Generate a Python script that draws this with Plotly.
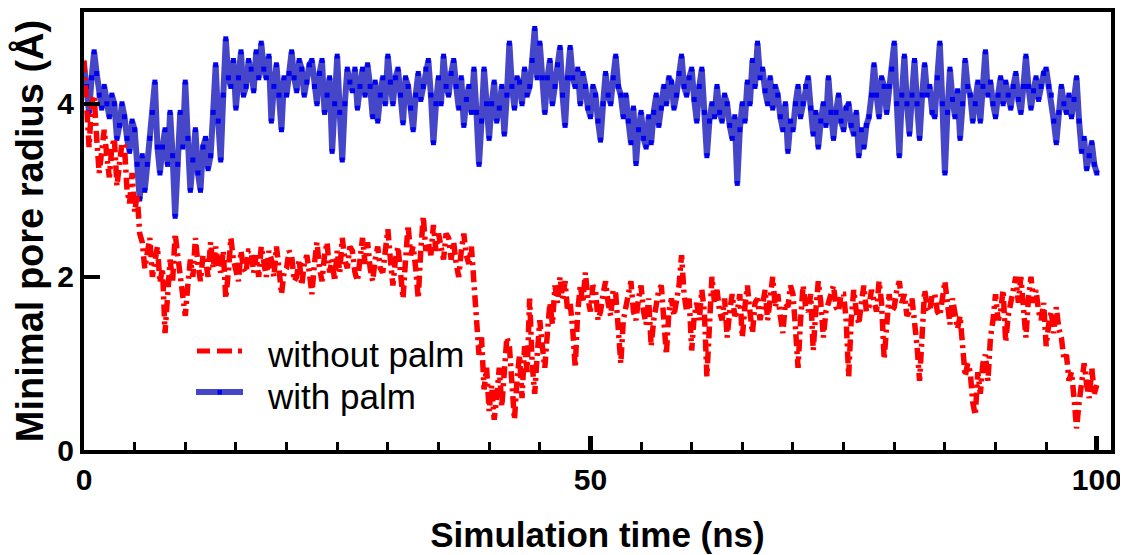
import plotly.graph_objects as go

# time axis (ns), sampled every 0.25 ns
time_ns = [i * 0.25 for i in range(401)]

# minimal pore radius (Å) with palmitoylation
with_palm = [
    4.45, 4.2, 3.9, 4.3, 4.6, 4.35, 4.1, 3.95, 4.2, 4.0, 3.85, 4.1, 4.0, 3.6, 3.75, 4.0, 3.85, 3.6, 3.45, 3.8,
    3.7, 3.3, 2.9, 3.4, 3.0, 3.3, 3.6, 3.9, 4.25, 3.5, 3.2, 3.5, 3.7, 3.3, 3.9, 3.4, 2.7, 3.3, 3.9, 3.5,
    4.25, 3.6, 3.0, 3.35, 3.7, 3.2, 3.0, 3.5, 3.6, 3.25, 3.4, 3.9, 4.45, 3.8, 3.35, 4.1, 4.75, 4.3, 4.2, 4.5,
    3.95, 4.3, 4.6, 4.1, 4.2, 4.5, 4.4, 4.15, 4.6, 4.3, 4.7, 4.4, 4.3, 4.55, 3.8, 4.2, 4.45, 4.1, 3.7, 4.3,
    4.1, 4.35, 4.6, 4.3, 4.15, 4.5, 4.4, 4.1, 4.25, 4.45, 4.5, 4.2, 4.0, 4.35, 4.5, 3.9, 4.1, 4.3, 3.45, 4.0,
    4.55, 3.9, 3.35, 4.0, 4.4, 4.25, 4.15, 4.4, 3.95, 4.2, 4.4, 4.1, 4.45, 4.2, 3.85, 4.25, 3.8, 4.1, 4.3, 4.0,
    4.55, 4.25, 4.0, 4.3, 4.4, 4.1, 3.78, 4.3, 4.2, 3.95, 3.7, 4.1, 4.35, 4.05, 4.2, 4.4, 4.5, 4.1, 3.55, 4.0,
    4.3, 4.0, 4.55, 4.2, 4.1, 4.35, 4.5, 4.2, 3.95, 4.3, 3.75, 4.05, 4.2, 3.9, 4.4, 3.9, 3.3, 3.8, 4.4, 4.0,
    3.6, 4.0, 4.25, 3.8, 3.95, 4.2, 3.65, 4.1, 4.7, 4.2, 3.95, 4.3, 4.25, 4.0, 4.4, 4.1, 4.2, 4.5, 4.87, 4.3,
    4.7, 4.3, 3.9, 4.3, 4.5, 4.0, 4.2, 4.45, 4.65, 4.1, 3.75, 4.3, 4.65, 4.3, 4.2, 4.4, 4.0, 4.35, 4.2, 3.95,
    3.85, 4.2, 4.1, 3.8, 3.58, 4.0, 4.35, 4.1, 4.0, 4.3, 4.55, 4.2, 4.1, 3.85, 4.1, 3.8, 3.55, 3.95, 3.31, 3.7,
    3.9, 3.6, 3.5, 3.85, 3.55, 3.9, 4.1, 3.75, 3.95, 4.2, 4.0, 4.3, 4.25, 3.95, 4.1, 4.35, 4.55, 4.2, 4.1, 4.3,
    4.4, 4.05, 3.8, 4.2, 4.4, 3.9, 3.4, 3.8, 4.0, 3.85, 4.2, 3.9, 3.8, 4.1, 4.0, 3.75, 3.6, 3.85, 3.08, 3.7,
    4.0, 3.8, 4.25, 4.0, 4.5, 4.2, 4.7, 4.3, 4.4, 4.15, 4.0, 4.3, 3.95, 4.2, 4.1, 3.85, 3.7, 4.0, 3.45, 3.8,
    3.7, 4.0, 4.2, 3.85, 4.0, 4.2, 4.3, 3.95, 3.65, 3.9, 3.5, 3.8, 4.0, 3.75, 4.3, 3.9, 3.6, 3.9, 4.1, 3.8,
    3.7, 3.95, 4.0, 3.75, 3.65, 3.9, 3.4, 3.7, 3.5, 3.75, 3.85, 4.1, 4.45, 4.1, 3.85, 4.3, 4.2, 3.9, 4.2, 4.4,
    4.7, 4.0, 3.4, 4.1, 4.55, 4.0, 3.65, 4.1, 4.5, 4.0, 3.6, 4.1, 4.45, 4.1, 4.2, 3.9, 3.85, 4.3, 4.7, 4.0,
    3.2, 3.9, 4.4, 4.05, 3.85, 4.15, 3.6, 4.0, 4.5, 4.2, 4.1, 3.8, 4.0, 4.25, 3.8, 4.2, 4.6, 4.1, 4.25, 4.0,
    3.85, 4.1, 4.3, 4.0, 4.25, 4.1, 3.95, 4.2, 4.35, 4.05, 3.9, 4.2, 4.55, 4.2, 3.95, 4.15, 4.3, 4.05, 4.2, 4.35,
    4.4, 4.2, 4.1, 3.8, 3.55, 3.9, 4.2, 4.0, 3.9, 4.1, 3.85, 4.05, 4.3, 3.8, 3.45, 3.6, 3.25, 3.4, 3.55, 3.3,
    3.2,
]

# minimal pore radius (Å) without palmitoylation
without_palm = [
    4.5, 3.9, 3.5, 4.0, 4.1, 3.6, 3.2, 3.45, 3.7, 3.4, 3.15, 3.5, 3.6, 3.05, 3.3, 3.55, 3.5, 3.0, 2.85, 3.2,
    2.75, 2.95, 2.5, 2.4, 2.1, 2.3, 2.45, 2.0, 2.2, 2.35, 1.93, 2.1, 1.35, 1.8, 2.2, 1.95, 2.5, 2.25, 2.0, 1.75,
    1.55, 1.9, 2.2, 2.0, 2.45, 2.15, 1.95, 2.25, 2.2, 2.0, 2.4, 2.1, 2.35, 2.15, 2.05, 2.3, 1.75, 2.05, 2.45, 2.2,
    2.1, 1.95, 2.3, 2.1, 2.05, 2.3, 2.3, 2.05, 2.25, 2.0, 2.35, 2.15, 2.0, 2.3, 2.2, 2.0, 2.35, 2.1, 1.8, 2.05,
    2.1, 2.3, 2.25, 1.95, 2.0, 2.2, 1.9, 2.15, 2.25, 2.05, 1.8, 2.15, 2.4, 2.1, 1.95, 2.25, 2.4, 2.05, 2.2, 1.95,
    2.3, 2.05, 2.45, 2.2, 2.1, 2.35, 2.3, 2.05, 1.95, 2.2, 2.45, 2.15, 2.4, 2.1, 1.95, 2.2, 2.35, 2.1, 2.05, 2.3,
    2.55, 2.2, 1.9, 2.2, 2.35, 2.05, 1.75, 2.2, 2.6, 2.25, 2.35, 2.1, 1.75, 2.3, 2.7, 2.3, 2.4, 2.25, 2.6, 2.3,
    2.5, 2.35, 2.2, 2.5, 2.45, 2.2, 2.4, 2.15, 2.0, 2.3, 2.5, 2.25, 2.15, 2.35, 1.9, 1.5, 1.1, 1.3, 0.7, 0.95,
    0.45, 0.75, 0.35, 0.6, 0.95, 0.5, 0.9, 1.3, 1.2, 0.7, 0.35, 0.8, 1.1, 0.6, 1.2, 0.9, 1.75, 1.0, 0.65, 1.1,
    1.5, 1.2, 0.95, 1.35, 1.7, 1.45, 1.9, 1.7, 2.0, 1.75, 1.95, 1.6, 1.7, 1.4, 0.95, 1.6, 1.9, 1.7, 2.05, 1.75,
    1.6, 1.9, 1.85, 1.5, 1.6, 1.8, 1.95, 1.7, 1.55, 1.85, 1.8, 1.4, 1.0, 1.5, 1.65, 1.85, 1.95, 1.6, 1.5, 1.75,
    1.9, 1.6, 1.45, 1.75, 1.2, 1.5, 1.7, 1.85, 1.9, 1.5, 1.1, 1.6, 1.75, 1.55, 1.7, 1.9, 2.25, 1.8, 1.6, 1.75,
    1.15, 1.55, 1.7, 1.5, 1.85, 1.6, 0.85, 1.5, 2.0, 1.7, 1.85, 1.6, 1.5, 1.75, 1.3, 1.6, 1.8, 1.55, 1.6, 1.8,
    1.3, 1.65, 1.9, 1.6, 1.35, 1.7, 1.75, 1.5, 1.7, 1.85, 1.5, 1.75, 2.0, 1.65, 1.8, 1.55, 1.35, 1.7, 1.65, 1.9,
    1.8, 1.4, 0.95, 1.5, 1.9, 1.65, 1.6, 1.8, 1.15, 1.6, 1.95, 1.7, 1.3, 1.6, 1.7, 1.85, 1.9, 1.65, 1.6, 1.8,
    1.8, 1.5, 0.85, 1.5, 1.85, 1.6, 1.45, 1.7, 1.9, 1.6, 1.65, 1.85, 1.75, 1.6, 1.95, 1.7, 1.05, 1.5, 1.8, 1.6,
    1.65, 1.85, 1.95, 1.7, 1.8, 1.55, 1.6, 1.75, 1.5, 1.2, 0.8, 1.4, 1.85, 1.65, 1.6, 1.8, 1.8, 1.6, 1.55, 1.75,
    1.95, 1.7, 1.45, 1.75, 1.6, 1.4, 1.55, 1.2, 0.85, 1.0, 0.9, 0.55, 0.4, 0.9, 0.65, 1.0, 1.1, 0.8, 1.3, 1.5,
    1.8, 1.5, 1.6, 1.85, 1.25, 1.55, 1.7, 1.9, 2.0, 1.7, 2.0, 1.65, 1.3, 1.75, 2.0, 1.7, 1.85, 1.6, 1.5, 1.7,
    1.2, 1.45, 1.6, 1.35, 1.65, 1.4, 1.3, 1.05, 1.1, 0.8, 0.9, 0.6, 0.25, 0.55, 0.8, 1.0, 0.75, 0.6, 0.95, 0.65,
    0.75,
]

x_ticks = [0, 50, 100]
y_ticks = [0, 2, 4]
series_names = ["without palm", "with palm"]

BLUE_LINE = "#4646c8"
BLUE_MARK = "#0000f0"
RED = "#ff0000"

fig = go.Figure()
fig.add_trace(go.Scatter(
    x=time_ns, y=with_palm, name=series_names[1], mode="lines+markers",
    line=dict(color=BLUE_LINE, width=6),
    marker=dict(symbol="square", size=5, color=BLUE_MARK, line=dict(width=0)),
    showlegend=False,
))
fig.add_trace(go.Scatter(
    x=time_ns, y=without_palm, name=series_names[0], mode="lines",
    line=dict(color=RED, width=5.5, dash="12px,5px,3px,5px"),
    showlegend=False,
))

# page offset (browser body margin) and plot-area box in page pixels
OFF = 8
L, T, W, H = 84, 12, 1027, 438
FIG_W, FIG_H = 1128 - OFF, 555 - OFF

def px(x):
    return (x - L) / W
def py(y):
    return (T + H - y) / H

shapes = [
    dict(type="line", xref="paper", yref="paper", x0=px(197), x1=px(243), y0=py(351), y1=py(351),
         line=dict(color=RED, width=5, dash="13px,7px,15px,6px,4px,10px")),
    dict(type="line", xref="paper", yref="paper", x0=px(196), x1=px(243), y0=py(392), y1=py(392),
         line=dict(color=BLUE_LINE, width=6)),
    dict(type="rect", xref="paper", yref="paper", x0=px(217.5), x1=px(222), y0=py(394.5), y1=py(390),
         line=dict(width=0), fillcolor=BLUE_MARK),
]
annotations = [
    dict(text=series_names[0], xref="paper", yref="paper", x=px(266), y=py(354), xanchor="left", yanchor="middle",
         showarrow=False, borderpad=0, font=dict(family="Liberation Sans", size=35, color="black")),
    dict(text=series_names[1], xref="paper", yref="paper", x=px(266), y=py(396), xanchor="left", yanchor="middle",
         showarrow=False, borderpad=0, font=dict(family="Liberation Sans", size=35, color="black")),
]

axis_font = dict(family="Liberation Sans", size=30, color="black", weight="bold")
x_title_font = dict(family="Liberation Sans", size=35, color="black", weight="bold")
y_title_font = dict(family="Liberation Sans", size=38, color="black", weight="bold")

fig.update_layout(
    width=FIG_W, height=FIG_H,
    margin=dict(l=L - OFF, r=FIG_W - (L - OFF) - W, t=T - OFF, b=FIG_H - (T - OFF) - H),
    plot_bgcolor="white", paper_bgcolor="white",
    shapes=shapes, annotations=annotations,
    xaxis=dict(
        range=[0, 101.4], tickvals=x_ticks, ticktext=[str(v) for v in x_ticks],
        ticks="inside", ticklen=14, tickwidth=5, tickcolor="black",
        minor=dict(ticks="inside", ticklen=8, tickwidth=3, dtick=5, tick0=0, tickcolor="black", showgrid=False),
        showline=True, linewidth=4, linecolor="black", mirror=True,
        showgrid=False, zeroline=False, tickfont=axis_font, automargin=False,
        title=dict(text="Simulation time (ns)", font=x_title_font, standoff=28),
    ),
    yaxis=dict(
        range=[0, 5.06], tickvals=y_ticks, ticktext=[str(v) for v in y_ticks],
        ticks="inside", ticklen=16, tickwidth=4, tickcolor="black",
        showline=True, linewidth=4, linecolor="black", mirror=True,
        showgrid=False, zeroline=False, tickfont=axis_font, automargin=False,
        title=dict(text="Minimal pore radius (Å)", font=y_title_font, standoff=10),
    ),
)

fig.write_html("out.html")
